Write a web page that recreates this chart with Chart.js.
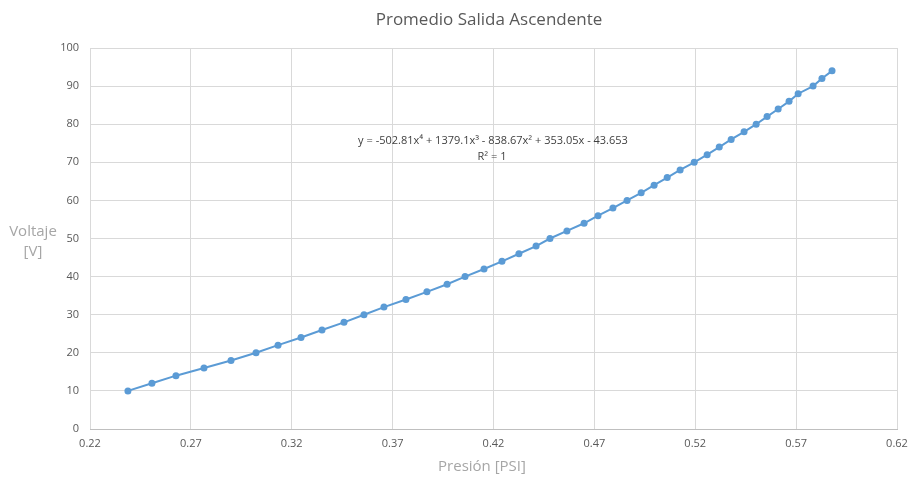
<!DOCTYPE html>
<html>
<head>
<meta charset="utf-8">
<script src="https://cdn.jsdelivr.net/npm/chart.js@4/dist/chart.umd.min.js"></script>
<style>
html,body{margin:0;padding:0;background:#fff;}
#wrap{position:relative;width:912px;height:477px;}
</style>
</head>
<body>
<div id="wrap"><canvas id="c" width="912" height="477"></canvas></div>
<script>
const pressure = [0.2388,0.2507,0.2626,0.2765,0.2899,0.3023,0.3132,0.3246,0.3350,0.3459,
  0.3558,0.3657,0.3766,0.3870,0.3970,0.4059,0.4153,0.4242,0.4326,0.4411,
  0.4480,0.4564,0.4649,0.4718,0.4792,0.4862,0.4932,0.4996,0.5061,0.5125,
  0.5195,0.5259,0.5319,0.5378,0.5442,0.5502,0.5556,0.5611,0.5665,0.5710,
  0.5784,0.5828,0.5878];
const voltage = [10,12,14,16,18,20,22,24,26,28,30,32,34,36,38,40,42,44,46,48,
  50,52,54,56,58,60,62,64,66,68,70,72,74,76,78,80,82,84,86,88,90,92,94];
const xTicks = [0.22,0.27,0.32,0.37,0.42,0.47,0.52,0.57,0.62];
const xTickLabels = ['0.22','0.27','0.32','0.37','0.42','0.47','0.52','0.57','0.62'];
const yTicks = [0,10,20,30,40,50,60,70,80,90,100];

const titleText = 'Promedio Salida Ascendente';
const xTitle = 'Presión [PSI]';
const yTitleLines = ['Voltaje','[V]'];
const eqLines = ['y = -502.81x\u2074 + 1379.1x\u00B3 - 838.67x\u00B2 + 353.05x - 43.653','R\u00B2 = 1'];

const FONT = "'Open Sans', 'Noto Sans', sans-serif";

const textPlugin = {
  id: 'texts',
  afterDraw(chart) {
    const ctx = chart.ctx;
    ctx.save();
    ctx.textAlign = 'center';
    ctx.textBaseline = 'middle';
    ctx.fillStyle = '#595959';
    ctx.font = '17px ' + FONT;
    ctx.fillText(titleText, 489, 20);
    ctx.fillStyle = '#a6a6a6';
    ctx.font = '15px ' + FONT;
    ctx.fillText(xTitle, 482, 467);
    ctx.fillText(yTitleLines[0], 33, 232);
    ctx.fillText(yTitleLines[1], 33, 252);
    ctx.fillStyle = '#404040';
    ctx.font = '11px ' + FONT;
    ctx.fillText(eqLines[0], 493, 141);
    ctx.fillText(eqLines[1], 492, 157);
    ctx.restore();
  }
};

new Chart(document.getElementById('c'), {
  type: 'scatter',
  data: {
    datasets: [{
      data: pressure.map((p, i) => ({x: p, y: voltage[i]})),
      showLine: true,
      borderColor: '#5b9bd5',
      backgroundColor: '#5b9bd5',
      borderWidth: 2,
      pointRadius: 3.5,
      pointBorderWidth: 0,
      tension: 0
    }]
  },
  options: {
    responsive: false,
    animation: false,
    layout: {padding: {left: 0, right: 15, top: 48, bottom: 0}},
    plugins: {legend: {display: false}, title: {display: false}, tooltip: {enabled: false}},
    scales: {
      x: {
        type: 'linear',
        min: 0.22, max: 0.62,
        afterBuildTicks: s => { s.ticks = xTicks.map(v => ({value: v})); },
        afterFit: s => { s.height = 48; s.paddingLeft = 0; s.paddingRight = 0; },
        ticks: {
          callback: (v, i) => xTickLabels[i],
          color: '#595959',
          font: {family: FONT, size: 11},
          padding: 8,
          maxRotation: 0,
          autoSkip: false
        },
        grid: {color: '#d9d9d9', lineWidth: 1, drawTicks: false},
        border: {display: true, color: '#bfbfbf', width: 1}
      },
      y: {
        min: 0, max: 100,
        afterBuildTicks: s => { s.ticks = yTicks.map(v => ({value: v})); },
        afterFit: s => { s.width = 90; s.paddingTop = 0; s.paddingBottom = 0; },
        ticks: {
          color: '#595959',
          font: {family: FONT, size: 11},
          padding: 11
        },
        grid: {color: '#d9d9d9', lineWidth: 1, drawTicks: false},
        border: {display: false}
      }
    }
  },
  plugins: [textPlugin]
});
</script>
</body>
</html>
